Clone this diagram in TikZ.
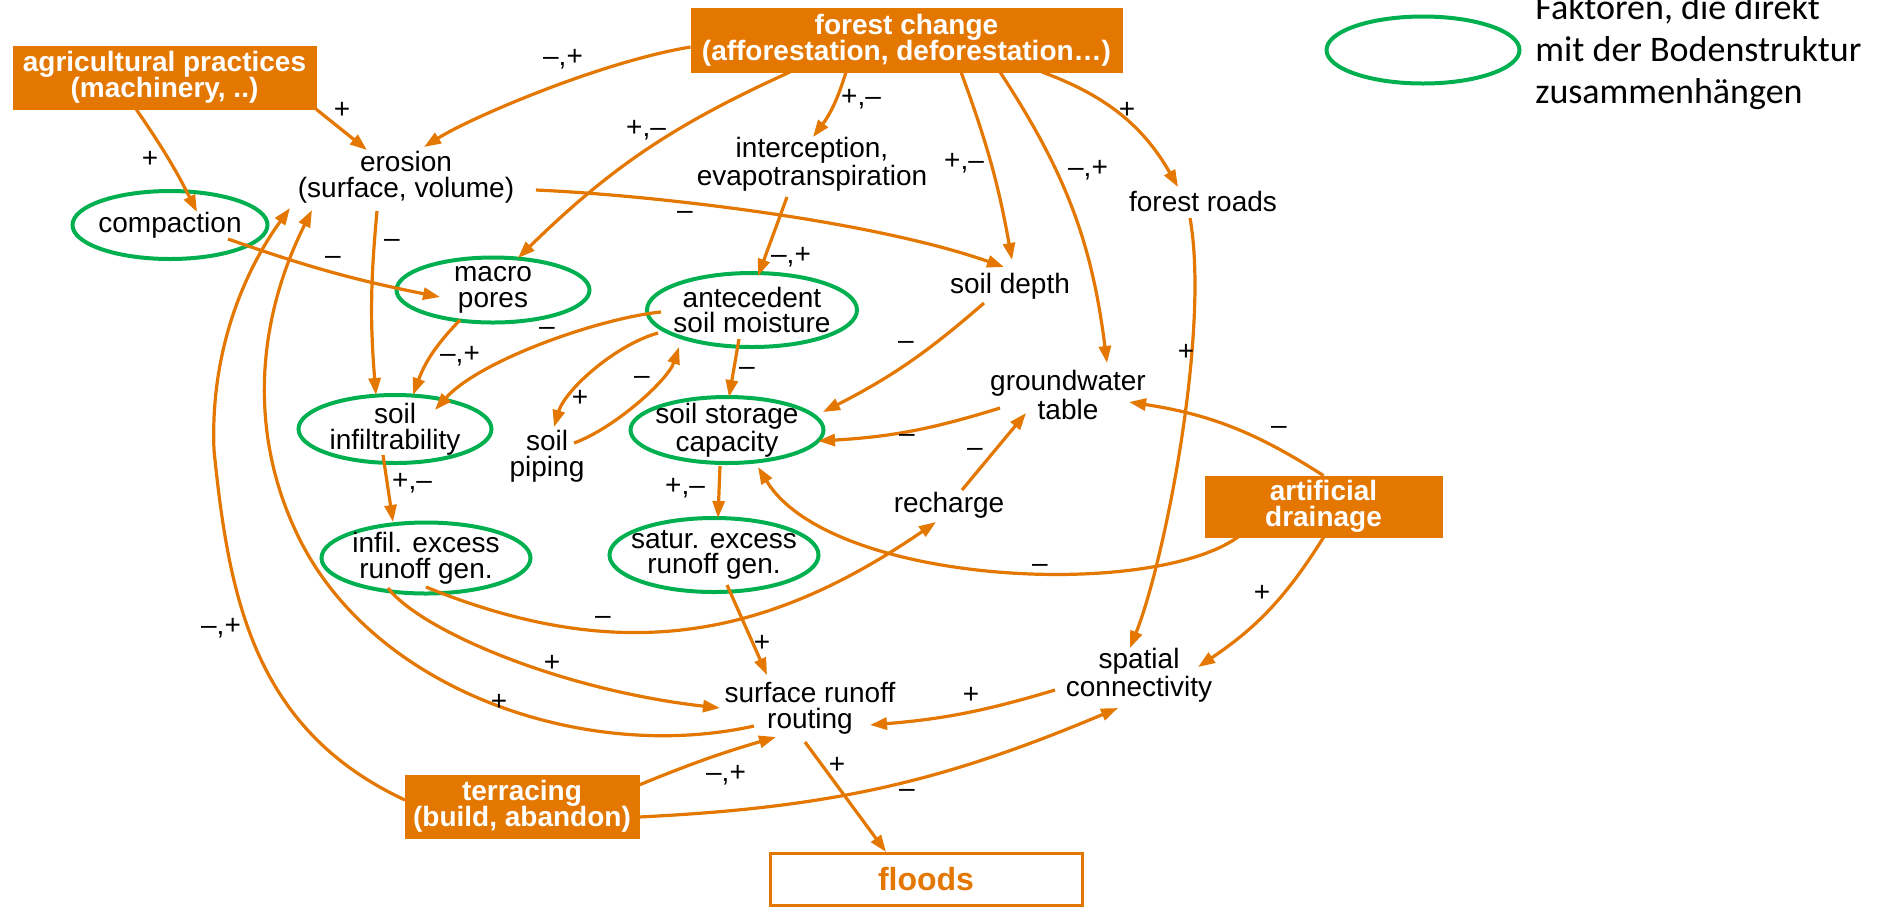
\documentclass[tikz,border=0pt]{standalone}
\usepackage{fontspec}
\setmainfont{Liberation Sans}
\newfontfamily\legendfont{Carlito}
\usetikzlibrary{arrows.meta,shapes.geometric,calc}
\definecolor{oorange}{RGB}{228,119,0}
\definecolor{ogreen}{RGB}{0,176,80}
\begin{document}
\begin{tikzpicture}[x=0.5pt,y=-0.5pt,
  txt/.style={font=\fontsize{14}{12.8}\selectfont, align=center, inner sep=1pt},
  lbl/.style={font=\fontsize{14}{14}\selectfont, inner sep=0pt},
  obox/.style={fill=oorange, draw=oorange, text=white, font=\bfseries\fontsize{14}{13.2}\selectfont, align=center, inner sep=0pt},
  soilell/.style={ellipse, draw=ogreen, line width=2pt, inner sep=0pt},
  arr/.style={draw=oorange, line width=1.6pt, -{Triangle[length=8.5pt,width=6pt]}},
]
\useasboundingbox (0,0) rectangle (1888,907);

% boxes
\node[obox, minimum width=151.5pt, minimum height=31.5pt] (agri) at (164.5,77.5) {agricultural practices\\(machinery, ..)};
\node[obox, minimum width=215.5pt, minimum height=32pt] (forest) at (906.5,40) {forest change\\(afforestation, deforestation…)};
\node[obox, minimum width=118.5pt, minimum height=30.5pt] (drain) at (1323.5,506.5) {artificial\\drainage};
\node[obox, minimum width=117pt, minimum height=31.5pt] (terr) at (522,806.5) {terracing\\(build, abandon)};
\node[draw=oorange, fill=white, line width=1.5pt, text=oorange, font=\bfseries\fontsize{16}{16}\selectfont, minimum width=156pt, minimum height=26pt, inner sep=0pt] (floods) at (926,879) {floods};

% ellipses
\node[soilell, minimum width=97.5pt, minimum height=34pt, label={[txt,name=compT]center:compaction}] (comp) at (170,225) {};
\node[soilell, minimum width=96.5pt, minimum height=32.5pt, label={[txt,name=macroT]center:macro\\pores}] (macro) at (493,290) {};
\node[soilell, minimum width=105pt, minimum height=37pt, label={[txt,name=antecT]center:antecedent\\soil moisture}] (antec) at (752,310) {};
\node[soilell, minimum width=96.5pt, minimum height=34pt, label={[txt,name=infiltrT]center:soil\\infiltrability}] (infiltr) at (395,429) {};
\node[soilell, minimum width=96.5pt, minimum height=33pt, label={[txt,name=storageT]center:soil storage\\capacity}] (storage) at (727,430) {};
\node[soilell, minimum width=104.5pt, minimum height=35.5pt, label={[txt,name=infexT]center:infil. excess\\runoff gen.}] (infex) at (426,558) {};
\node[soilell, minimum width=104.5pt, minimum height=37pt, label={[txt,name=satexT]center:satur. excess\\runoff gen.}] (satex) at (714,555) {};
\node[soilell, minimum width=96.5pt, minimum height=33.5pt] (legend) at (1423,50) {};
\node[anchor=west, align=left, inner sep=0pt, font=\legendfont\fontsize{18}{20.8}\selectfont] (legendtext) at (1535,52) {Faktoren, die direkt\\mit der Bodenstruktur\\zusammenhängen};

% plain text nodes
\node[txt] (erosion) at (406,177) {erosion\\(surface, volume)};
\node[txt] (intercep) at (812,164) {interception,\\evapotranspiration};
\node[txt] (soildepth) at (1010,286) {soil depth};
\node[txt] (froads) at (1203,201) {forest roads};
\node[txt] (gw) at (1068,395) {groundwater\\table};
\node[txt] (piping) at (547,456) {soil\\piping};
\node[txt] (recharge) at (949,505) {recharge};
\node[txt] (spatial) at (1139,675) {spatial\\connectivity};
\node[txt] (surf) at (810,708) {surface runoff\\routing};

% connectors
\draw[arr] ($(agri)+(-28.5,31.5)$) to[bend left=4] ($(comp)+(27,-13)$);
\draw[arr] (agri.south east) -- ($(erosion)+(-39,-27)$);
\draw[arr] ($(forest)+(-216,7)$) .. controls (600,62) and (470,118) .. ($(erosion)+(18,-30)$);
\draw[arr] ($(forest)+(-116.5,32)$) to[bend right=10] ($(macro)+(25,-32)$);
\draw[arr] ($(forest)+(-60.5,32)$) to[bend left=10] ($(intercep)+(1,-27)$);
\draw[arr] ($(forest)+(54.5,32)$) to[bend left=5] ($(soildepth)+(2,-26)$);
\draw[arr] ($(forest)+(93.5,32)$) to[bend left=13] ($(gw)+(39,-32)$);
\draw[arr] ($(forest)+(135.5,32)$) to[bend left=20] ($(froads)+(-25,-14)$);
\draw[arr] ($(erosion)+(130,13)$) .. controls (650,195) and (870,220) .. ($(soildepth)+(-6,-19)$);
\draw[arr] ($(erosion)+(-29,34)$) to[bend right=5] ($(infiltr)+(-19,-34)$);
\draw[arr] ($(comp)+(58,14)$) to[bend right=4] ($(macro)+(-53,7)$);
\draw[arr] ($(macro)+(-33,30)$) to[bend right=12] ($(infiltr)+(18,-34)$);
\draw[arr] ($(intercep)+(-25,33)$) -- ($(antec)+(6,-34)$);
\draw[arr] ($(antec)+(-91,2)$) .. controls (600,318) and (480,360) .. ($(infiltr)+(40,-19)$);
\draw[arr] ($(antec)+(-94,23)$) .. controls (615,345) and (565,390) .. ($(piping)+(7,-29)$);
\draw[arr] ($(piping)+(27,-13)$) .. controls (615,428) and (668,380) .. ($(antec)+(-73,37)$);
\draw[arr] ($(antec)+(-13,29)$) -- ($(storage)+(2,-33)$);
\draw[arr] ($(soildepth)+(-26,17)$) to[bend left=7] ($(storage)+(96,-18)$);
\draw[arr] ($(gw)+(-68,13)$) to[bend left=7] ($(storage)+(91,11)$);
\draw[arr] ($(recharge)+(13,-15)$) -- ($(gw)+(-42,18)$);
\draw[arr] (drain.north) to[bend right=12] ($(gw)+(61,7)$);
\draw[arr] ($(drain)+(-85.5,30.5)$) .. controls (1150,600) and (830,585) .. ($(storage)+(31,37)$);
\draw[arr] (drain.south) to[bend left=12] ($(spatial)+(59,-8)$);
\draw[arr] ($(froads)+(-13,17)$) .. controls (1210,330) and (1165,560) .. ($(spatial)+(-9,-27)$);
\draw[arr] ($(infiltr)+(-12,26)$) -- ($(infex)+(-33,-36)$);
\draw[arr] ($(storage)+(-7,36)$) -- ($(satex)+(4,-37)$);
\draw[arr] ($(infex)+(0,29)$) .. controls (620,666) and (766,639) .. ($(recharge)+(-13,17)$);
\draw[arr] ($(infex)+(-38,30)$) .. controls (420,630) and (560,690) .. ($(surf)+(-90,0)$);
\draw[arr] ($(satex)+(13,30)$) -- ($(surf)+(-43,-33)$);
\draw[arr] ($(spatial)+(-84,15)$) to[bend left=6] ($(surf)+(60,17)$);
\draw[arr] ($(surf)+(-56,18)$) .. controls (588,763) and (377,693) .. (300,540) .. controls (246,432) and (258,318) .. ($(erosion)+(-94,33)$);
\draw[arr] ($(terr)+(-117,-6.5)$) .. controls (255,730) and (229,600) .. (214,450) .. controls (210,350) and (245,270) .. ($(erosion)+(-116,31)$);
\draw[arr] ($(terr)+(117,-21.5)$) to[bend left=3] ($(surf)+(-34,29)$);
\draw[arr] ($(terr)+(117,10.5)$) to[bend right=10] ($(spatial)+(-21,33)$);
\draw[arr] ($(surf)+(-5,34)$) -- ($(floods)+(-40,-27)$);

% sign labels
\node[lbl] (l1) at (150,159) {+};
\node[lbl] (l2) at (342,110) {+};
\node[lbl] (l3) at (563,59) {–,+};
\node[lbl] (l4) at (646,130) {+,–};
\node[lbl] (l5) at (861,99) {+,–};
\node[lbl] (l6) at (964,163) {+,–};
\node[lbl] (l7) at (1088,170) {–,+};
\node[lbl] (l8) at (1127,110) {+};
\node[lbl] (l9) at (685,215) {–};
\node[lbl] (l10) at (392,243) {–};
\node[lbl] (l11) at (333,260) {–};
\node[lbl] (l12) at (460,356) {–,+};
\node[lbl] (l13) at (791,257) {–,+};
\node[lbl] (l14) at (547,331) {–};
\node[lbl] (l15) at (580,398) {+};
\node[lbl] (l16) at (642,380) {–};
\node[lbl] (l17) at (747,371) {–};
\node[lbl] (l18) at (906,345) {–};
\node[lbl] (l19) at (907,438) {–};
\node[lbl] (l20) at (975,452) {–};
\node[lbl] (l21) at (1279,430) {–};
\node[lbl] (l22) at (1040,568) {–};
\node[lbl] (l23) at (1262,593) {+};
\node[lbl] (l24) at (1186,352) {+};
\node[lbl] (l25) at (412,483) {+,–};
\node[lbl] (l26) at (685,488) {+,–};
\node[lbl] (l27) at (603,620) {–};
\node[lbl] (l28) at (552,663) {+};
\node[lbl] (l29) at (762,643) {+};
\node[lbl] (l30) at (971,695) {+};
\node[lbl] (l31) at (499,702) {+};
\node[lbl] (l32) at (221,628) {–,+};
\node[lbl] (l33) at (726,775) {–,+};
\node[lbl] (l34) at (907,793) {–};
\node[lbl] (l35) at (837,765) {+};
\end{tikzpicture}
\end{document}
